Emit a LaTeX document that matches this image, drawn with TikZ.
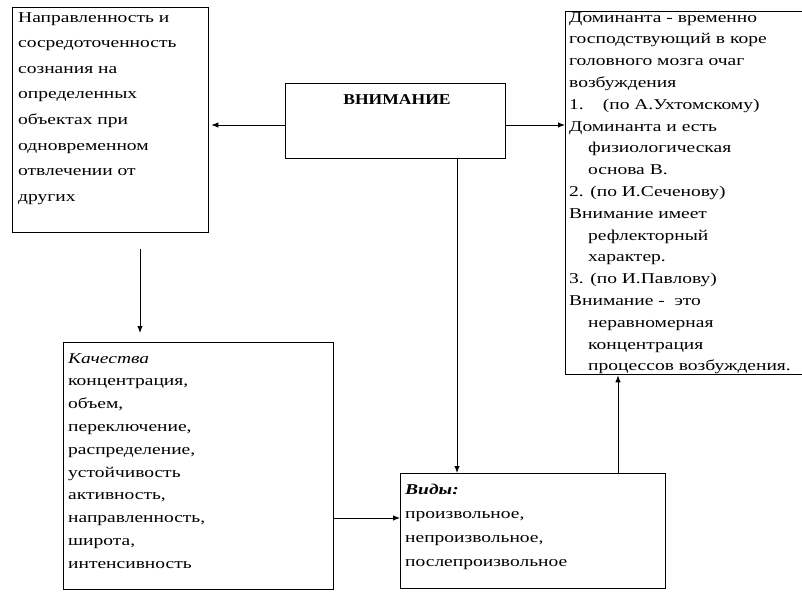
\documentclass[tikz,border=0pt]{standalone}
\usepackage{fontspec}
\setmainfont{Liberation Serif}[FakeStretch=1.3]
\newfontfamily\headfont{Liberation Serif}[FakeStretch=1.17]
\usetikzlibrary{arrows.meta,calc}
\begin{document}
\begin{tikzpicture}[x=1pt,y=-1pt,
  box/.style={draw, line width=1.3pt, inner sep=0pt, anchor=north west},
  arr/.style={line width=1pt, -{Latex[length=7pt,width=5.5pt]}},
  txt/.style={anchor=north west, inner sep=0pt, align=left}]
\clip (0,0) rectangle (802,591);
\fill[white] (0,0) rectangle (802,591);
% boxes
\node[box, minimum width=196pt, minimum height=225pt] (lbox) at (12,7) {};
\node[box, minimum width=220pt, minimum height=75pt] (mbox) at (285,83) {};
\node[box, minimum width=260pt, minimum height=363pt] (rbox) at (565,11) {};
\node[box, minimum width=270pt, minimum height=247pt] (qbox) at (63,342) {};
\node[box, minimum width=265pt, minimum height=115pt] (vbox) at (400,473) {};
% texts
\node[txt, font=\fontsize{15}{25.6}\selectfont] (ltext) at (18,12) {Направленность и\\сосредоточенность\\сознания на\\определенных\\объектах при\\одновременном\\отвлечении от\\других};
\node[anchor=north, inner sep=0pt, font=\headfont\bfseries\fontsize{15}{18}\selectfont] (mtext) at (397,94) {ВНИМАНИЕ};
\node[txt, font=\fontsize{15}{21.8}\selectfont] (rtext) at (569,12) {Доминанта - временно\\господствующий в коре\\головного мозга очаг\\возбуждения\\1.\hspace{19pt}(по А.Ухтомскому)\\Доминанта и есть\\\hspace*{19pt}физиологическая\\\hspace*{19pt}основа В.\\2. (по И.Сеченову)\\Внимание имеет\\\hspace*{19pt}рефлекторный\\\hspace*{19pt}характер.\\3. (по И.Павлову)\\Внимание -\ \ это\\\hspace*{19pt}неравномерная\\\hspace*{19pt}концентрация\\\hspace*{19pt}процессов возбуждения.};
\node[txt, font=\fontsize{15}{22.8}\selectfont] (qtext) at (68,353) {\textit{Качества}\\концентрация,\\объем,\\переключение,\\распределение,\\устойчивость\\активность,\\направленность,\\широта,\\интенсивность};
\node[txt, font=\fontsize{15}{23.8}\selectfont] (vtext) at (405,484) {\textit{\bfseries Виды:}\\произвольное,\\непроизвольное,\\послепроизвольное};
% helper coordinates
\coordinate (ay) at (0,125);
\coordinate (ax) at (140,0);
\coordinate (by) at (0,518);
\coordinate (cx) at (457,0);
\coordinate (dx) at (618,0);
% connectors
\draw[arr] (mbox.west |- ay) -- ($(lbox.east |- ay)+(2,0)$);
\draw[arr] (mbox.east |- ay) -- (rbox.west |- ay);
\draw[arr] (mbox.south -| cx) -- (vbox.north -| cx);
\draw[arr, shorten <=16pt, shorten >=9pt] (lbox.south -| ax) -- (qbox.north -| ax);
\draw[arr] (qbox.east |- by) -- (vbox.west |- by);
\draw[arr] (vbox.north -| dx) -- (rbox.south -| dx);
\end{tikzpicture}
\end{document}
